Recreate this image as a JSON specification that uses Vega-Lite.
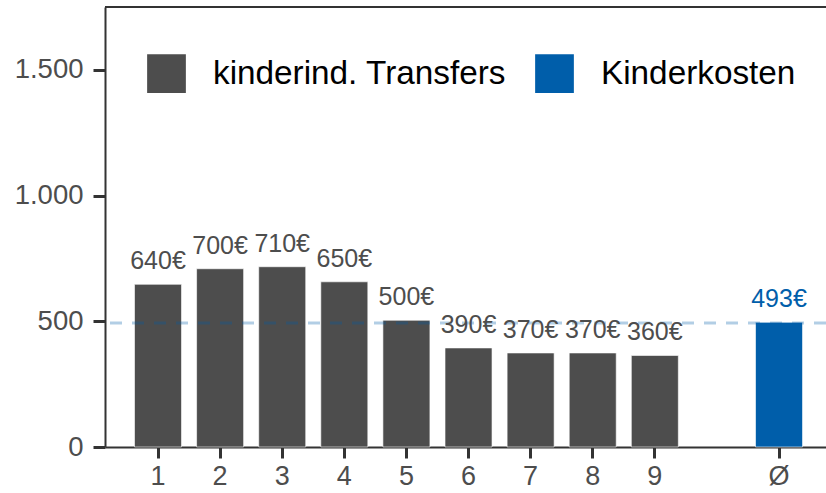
{
  "$schema": "https://vega.github.io/schema/vega-lite/v6.json",
  "width": 721,
  "height": 440,
  "autosize": {"type": "none"},
  "padding": {"left": 105, "top": 7, "right": 0, "bottom": 46},
  "background": "white",
  "config": {
    "view": {"stroke": null},
    "font": "Liberation Sans"
  },
  "datasets": {
    "bars": [
      {"k": "1", "v": 647, "label": "640€", "group": "kinderind. Transfers"},
      {"k": "2", "v": 709, "label": "700€", "group": "kinderind. Transfers"},
      {"k": "3", "v": 717, "label": "710€", "group": "kinderind. Transfers"},
      {"k": "4", "v": 657, "label": "650€", "group": "kinderind. Transfers"},
      {"k": "5", "v": 504, "label": "500€", "group": "kinderind. Transfers"},
      {"k": "6", "v": 394, "label": "390€", "group": "kinderind. Transfers"},
      {"k": "7", "v": 374, "label": "370€", "group": "kinderind. Transfers"},
      {"k": "8", "v": 374, "label": "370€", "group": "kinderind. Transfers"},
      {"k": "9", "v": 364, "label": "360€", "group": "kinderind. Transfers"},
      {"k": "Ø", "v": 496, "label": "493€", "group": "Kinderkosten"}
    ],
    "ref": [{"avg": 493}],
    "frame": [{"top": 1750}]
  },
  "layer": [
    {
      "data": {"name": "bars"},
      "mark": {"type": "bar", "stroke": "white", "strokeWidth": 1, "strokeOpacity": 0.6},
      "encoding": {
        "x": {
          "field": "k",
          "type": "nominal",
          "sort": null,
          "scale": {
            "domain": ["1", "2", "3", "4", "5", "6", "7", "8", "9", " ", "Ø"],
            "paddingInner": 0.243,
            "paddingOuter": 0.4265,
            "align": 0.557
          },
          "axis": {
            "title": null,
            "values": ["1", "2", "3", "4", "5", "6", "7", "8", "9", "Ø"],
            "labelAngle": 0,
            "labelFontSize": 27,
            "labelColor": "#4d4d4d",
            "labelPadding": 5,
            "domainColor": "#333333",
            "domainWidth": 2,
            "tickColor": "#333333",
            "tickWidth": 3,
            "tickSize": 11
          }
        },
        "y": {
          "field": "v",
          "type": "quantitative",
          "scale": {"domain": [0, 1750], "nice": false, "zero": true},
          "axis": {
            "title": null,
            "values": [0, 500, 1000, 1500],
            "labelExpr": "replace(format(datum.value, ','), ',', '.')",
            "labelFontSize": 27.5,
            "labelColor": "#4d4d4d",
            "labelPadding": 10,
            "grid": false,
            "domainColor": "#333333",
            "domainWidth": 2,
            "tickColor": "#333333",
            "tickWidth": 3,
            "tickSize": 12
          }
        },
        "color": {
          "field": "group",
          "type": "nominal",
          "scale": {"domain": ["kinderind. Transfers", "Kinderkosten"], "range": ["#4d4d4d", "#005eaa"]},
          "legend": {
            "title": null,
            "orient": "none",
            "legendX": 42,
            "legendY": 47,
            "direction": "horizontal",
            "symbolType": "square",
            "symbolSize": 1500,
            "symbolStrokeWidth": 0,
            "symbolOpacity": 1,
            "labelFontSize": 33.3,
            "labelColor": "#000000",
            "labelOffset": 27,
            "columnPadding": 28,
            "padding": 0,
            "labelLimit": 500
          }
        }
      }
    },
    {
      "data": {"name": "ref"},
      "mark": {"type": "rule", "stroke": "#005eaa", "strokeOpacity": 0.3, "strokeWidth": 3, "strokeDash": [12, 10]},
      "encoding": {"y": {"field": "avg", "type": "quantitative"}}
    },
    {
      "data": {"name": "frame"},
      "mark": {"type": "rule", "color": "#333333", "strokeWidth": 2},
      "encoding": {"y": {"field": "top", "type": "quantitative"}}
    },
    {
      "data": {"name": "bars"},
      "mark": {"type": "text", "baseline": "alphabetic", "align": "center", "dy": -15, "fontSize": 25},
      "encoding": {
        "x": {"field": "k", "type": "nominal", "sort": null},
        "y": {"field": "v", "type": "quantitative"},
        "text": {"field": "label"},
        "color": {"field": "group", "type": "nominal", "legend": null}
      }
    }
  ]
}
